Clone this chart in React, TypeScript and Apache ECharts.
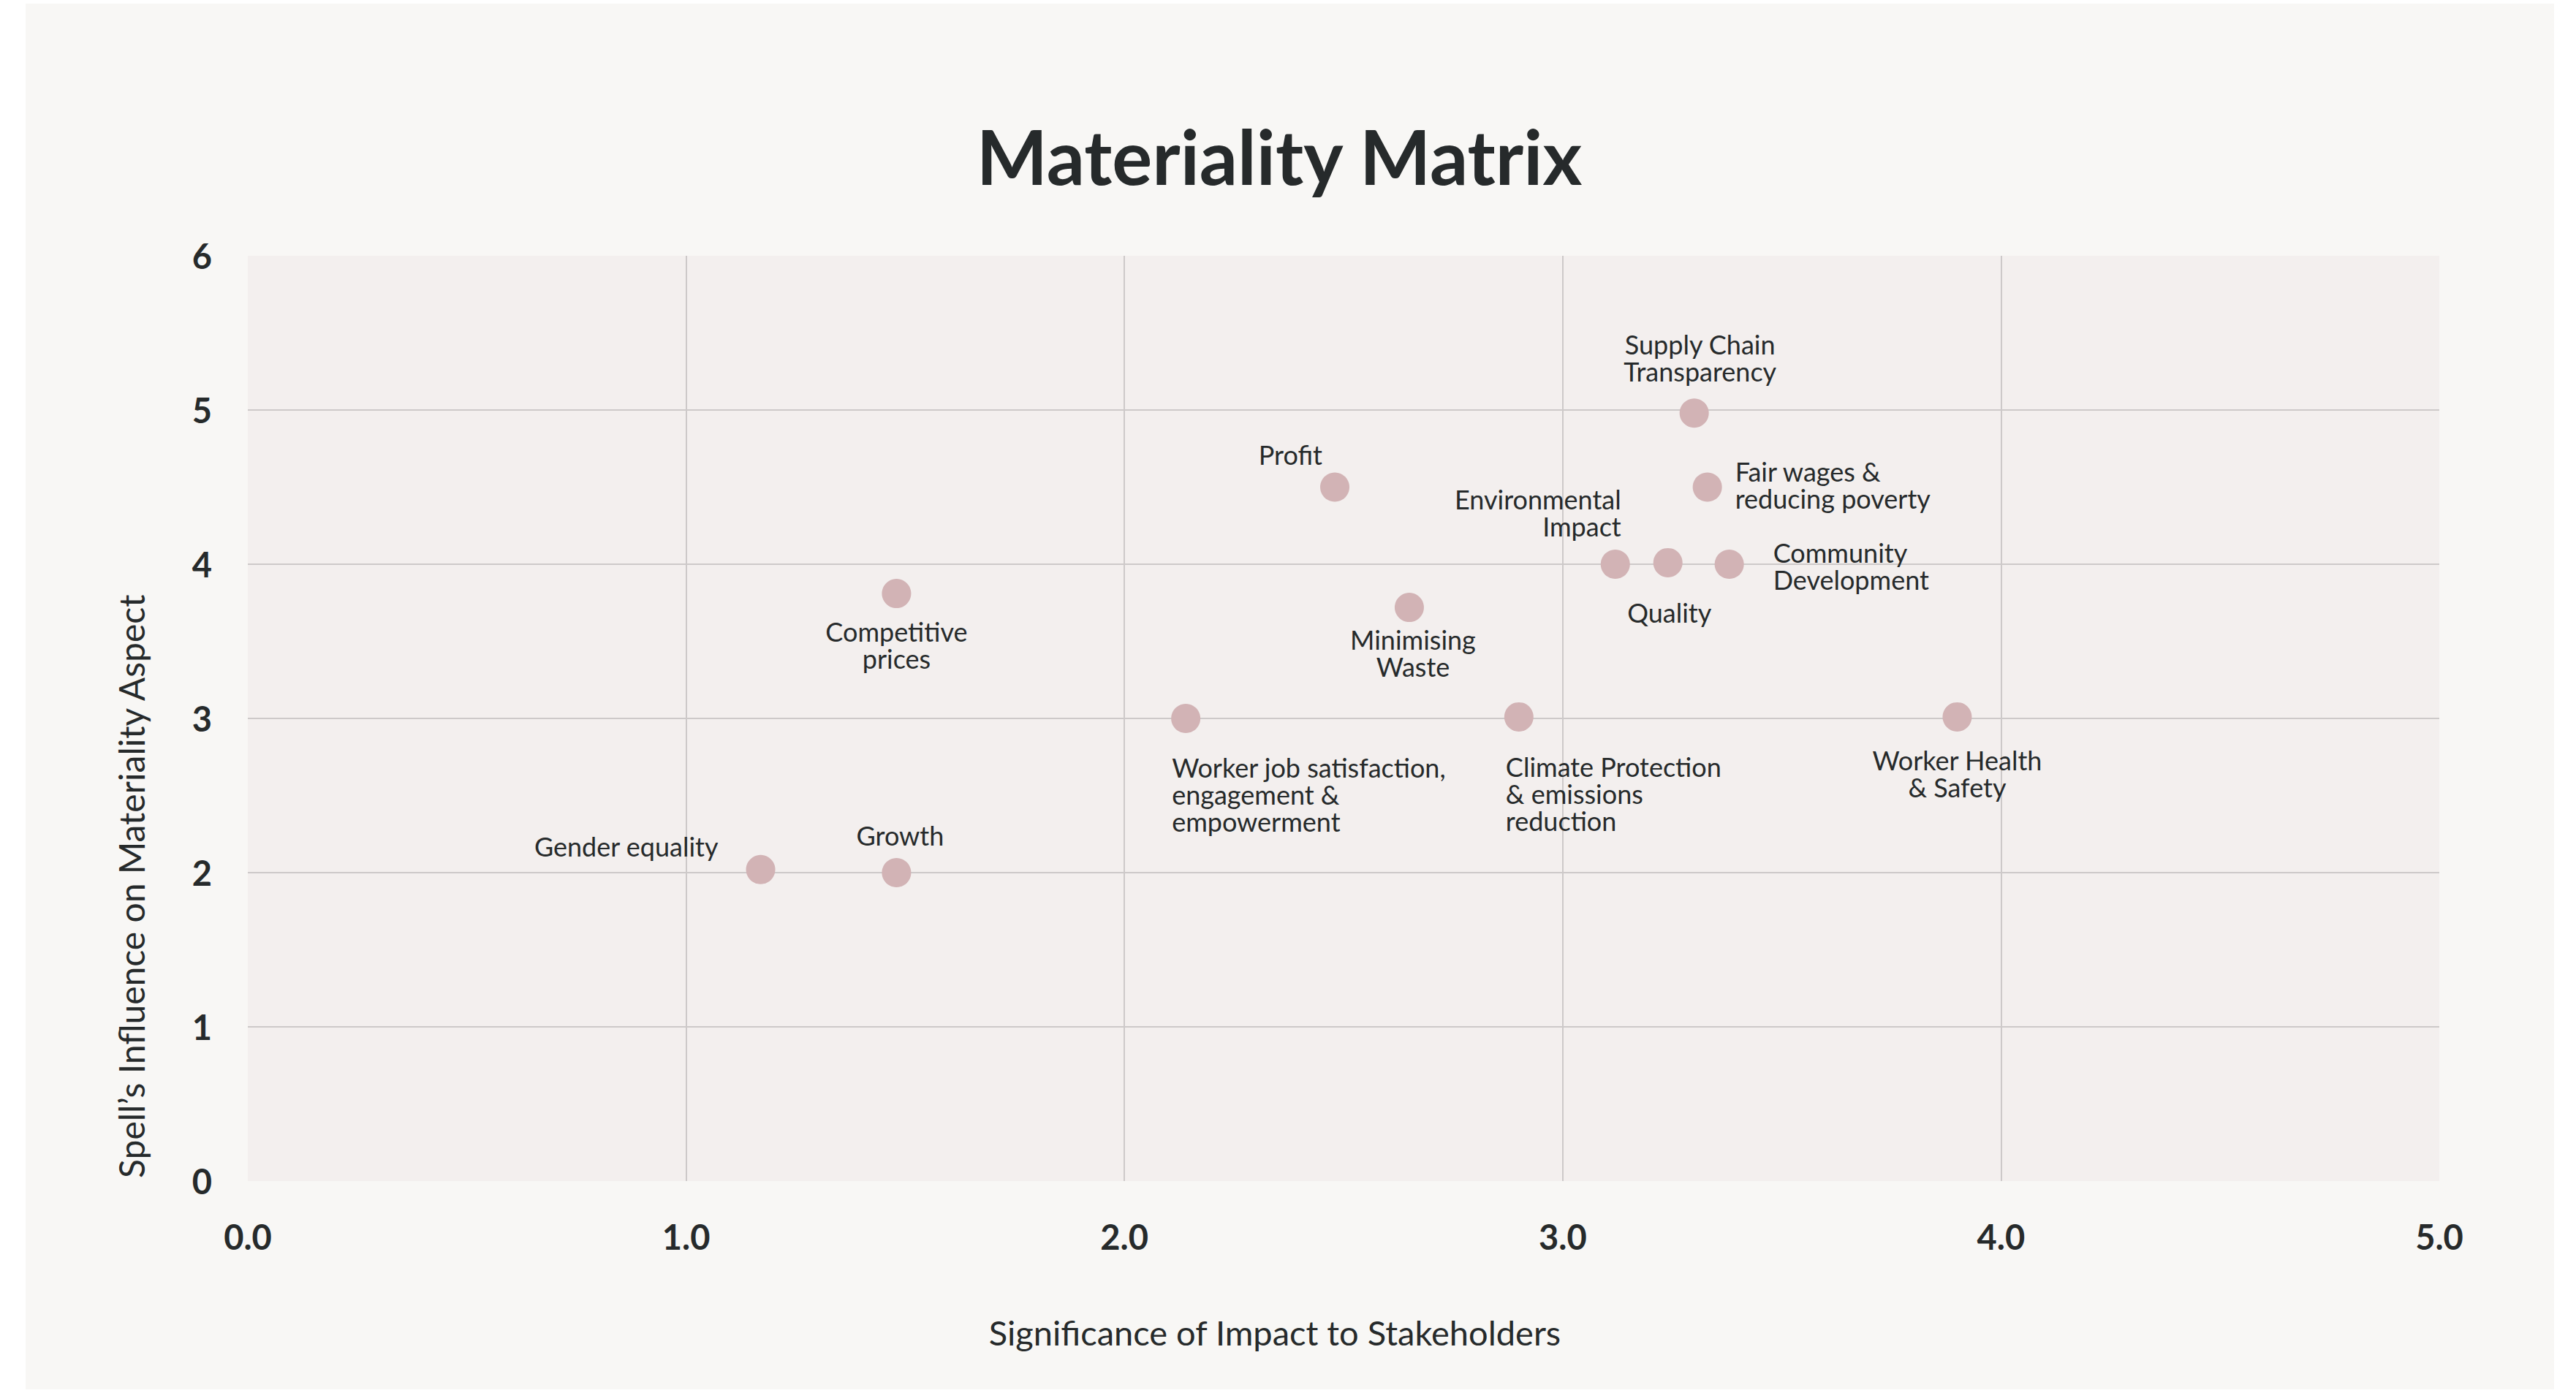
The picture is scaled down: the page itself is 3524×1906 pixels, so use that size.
import React, { useEffect, useRef } from "react";
import * as echarts from "echarts";

const labels: string[] = [
  "Gender equality",
  "Growth",
  "Competitive\nprices",
  "Worker job satisfaction,\nengagement &\nempowerment",
  "Climate Protection\n& emissions\nreduction",
  "Worker Health\n& Safety",
  "Minimising\nWaste",
  "Profit",
  "Environmental\nImpact",
  "Quality",
  "Community\nDevelopment",
  "Fair wages &\nreducing poverty",
  "Supply Chain\nTransparency",
];
const impactValues: number[] = [1.17, 1.48, 1.48, 2.14, 2.9, 3.9, 2.65, 2.48, 3.12, 3.24, 3.38, 3.33, 3.3];
const influenceValues: number[] = [2.02, 2.0, 3.81, 3.0, 3.01, 3.01, 3.72, 4.5, 4.0, 4.01, 4.0, 4.5, 4.98];
const xTicks: number[] = [0, 1, 2, 3, 4, 5];
const yTicks: number[] = [0, 1, 2, 3, 4, 5, 6];

// label placement relative to each dot centre: [dx, dy, align, verticalAlign]
const placements: [number, number, string, string][] = [
  [-58, -32, "right", "middle"],
  [5, -51, "center", "middle"],
  [0, 33, "center", "top"],
  [-19, 48, "left", "top"],
  [-18, 50, "left", "top"],
  [0, 41, "center", "top"],
  [5, 25, "center", "top"],
  [-17, -45, "right", "middle"],
  [8, -71, "right", "middle"],
  [2, 68, "center", "middle"],
  [60, 2, "left", "middle"],
  [38, -3, "left", "middle"],
  [8, -76, "center", "middle"],
];

const TEXT = "#262a2b";
const FONT = "Lato";
const DOT = 40;

export default function App() {
  const ref = useRef<HTMLDivElement>(null);
  useEffect(() => {
    if (!ref.current) return;
    const chart = echarts.init(ref.current, undefined, { renderer: "svg" });
    const data = labels.map((name, i) => ({
      name,
      value: [impactValues[i], influenceValues[i]],
      label: {
        position: [DOT / 2 + placements[i][0], DOT / 2 + placements[i][1]],
        align: placements[i][2],
        verticalAlign: placements[i][3],
      },
    }));
    chart.setOption({
      animation: false,
      backgroundColor: "#ffffff",
      title: {
        text: "Materiality Matrix",
        left: 1745,
        top: 208,
        textAlign: "center",
        textVerticalAlign: "middle",
        textStyle: { fontFamily: FONT, fontWeight: "bold", fontSize: 103, color: TEXT },
      },
      graphic: {
        elements: [
          {
            type: "rect",
            z: -100,
            shape: { x: 35, y: 5, width: 3459, height: 1896 },
            style: { fill: "#f8f7f5" },
            silent: true,
          },
          {
            type: "text",
            x: 1744,
            y: 1823,
            style: {
              text: "Significance of Impact to Stakeholders",
              fontFamily: FONT,
              fontSize: 47,
              fill: TEXT,
              textAlign: "center",
              textVerticalAlign: "middle",
            },
          },
          {
            type: "text",
            x: 179,
            y: 1612,
            rotation: Math.PI / 2,
            style: {
              text: "Spell\u2019s Influence on Materiality Aspect",
              fontFamily: FONT,
              fontSize: 48,
              fill: TEXT,
              textAlign: "left",
              textVerticalAlign: "middle",
            },
          },
        ],
      },
      grid: {
        left: 339,
        top: 350,
        width: 2998,
        height: 1266,
        show: true,
        backgroundColor: "#f3efee",
        borderWidth: 0,
      },
      xAxis: {
        type: "value",
        min: xTicks[0],
        max: xTicks[xTicks.length - 1],
        interval: 1,
        axisLine: { show: false },
        axisTick: { show: false },
        splitLine: { show: true, showMinLine: false, showMaxLine: false, lineStyle: { color: "#cdc9c9", width: 2 } },
        axisLabel: {
          margin: 52,
          fontFamily: FONT,
          fontWeight: "bold",
          fontSize: 47,
          color: TEXT,
          formatter: (v: number) => v.toFixed(1),
        },
      },
      yAxis: {
        type: "value",
        min: yTicks[0],
        max: yTicks[yTicks.length - 1],
        interval: 1,
        axisLine: { show: false },
        axisTick: { show: false },
        splitLine: { show: true, showMinLine: false, showMaxLine: false, lineStyle: { color: "#cdc9c9", width: 2 } },
        axisLabel: {
          margin: 49,
          fontFamily: FONT,
          fontWeight: "bold",
          fontSize: 47,
          color: TEXT,
        },
      },
      series: [
        {
          type: "scatter",
          symbol: "circle",
          symbolSize: DOT,
          itemStyle: { color: "#d2b3b5", opacity: 1 },
          emphasis: { disabled: true },
          label: {
            show: true,
            formatter: (p: any) => p.name,
            fontFamily: FONT,
            fontSize: 36,
            lineHeight: 37,
            color: TEXT,
          },
          labelLayout: { hideOverlap: false },
          data,
        },
      ],
    });
    return () => chart.dispose();
  }, []);
  return (
    <div
      ref={ref}
      style={{ position: "absolute", left: 0, top: 0, width: 3524, height: 1906 }}
    />
  );
}
